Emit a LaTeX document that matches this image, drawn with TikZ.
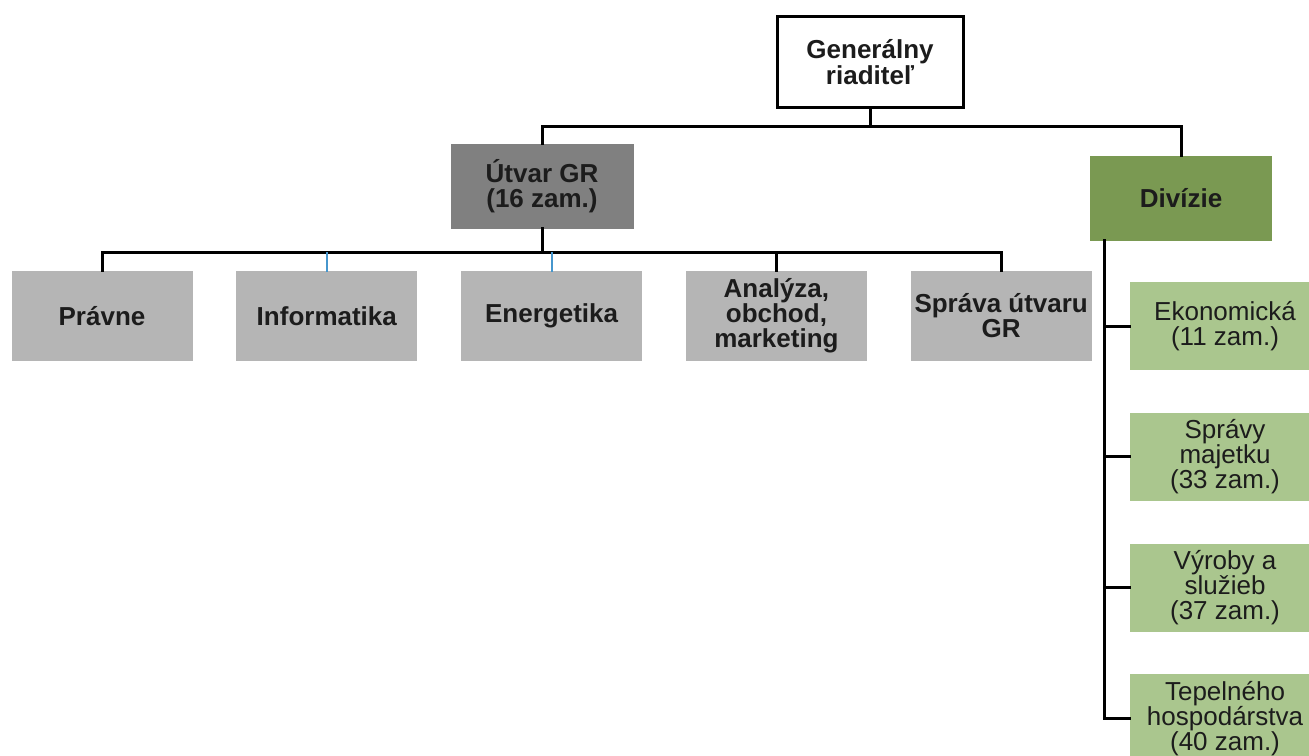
\documentclass[tikz,border=0pt]{standalone}
\usepackage{fontspec}
\setmainfont{Liberation Sans}
\usepackage{tikz}
\definecolor{grdark}{RGB}{128,128,128}
\definecolor{grlight}{RGB}{181,181,181}
\definecolor{divgreen}{RGB}{122,153,82}
\definecolor{unitgreen}{RGB}{170,198,142}
\definecolor{tickblue}{RGB}{70,150,205}
\definecolor{inkdark}{RGB}{28,28,28}
\usetikzlibrary{positioning}

\begin{document}
\begin{tikzpicture}[x=0.5pt, y=-0.5pt,
                line cap=rect, line join=miter,
                box/.style={align=center, inner sep=0pt, text=inkdark,
                            font=\fontsize{13}{12.5}\selectfont},
                ceo/.style={box, draw=black, line width=1.5pt, fill=white,
                            minimum width=93pt, minimum height=45.5pt,
                            font=\bfseries\fontsize{13}{12}\selectfont},
                staff/.style={box, fill=grdark, minimum width=91.5pt, minimum height=42.5pt,
                            font=\bfseries\fontsize{13}{12.5}\selectfont},
                dept/.style={box, fill=grlight, minimum width=90.5pt, minimum height=45pt,
                            font=\bfseries\fontsize{13}{12.5}\selectfont},
                division/.style={box, fill=divgreen, minimum width=91pt, minimum height=42.5pt,
                            font=\bfseries\fontsize{13}{12.5}\selectfont},
                divunit/.style={box, fill=unitgreen, minimum width=95pt, minimum height=44pt},
                link/.style={black, line width=1.5pt},
                bluelink/.style={tickblue, line width=1pt}]
                \def\deptgap{21.5pt}
                \def\unitgap{21pt}
                \useasboundingbox (0,0) rectangle (1309,755);

                % top levels
                \node[ceo] (gr) at (870,62) {Generálny\\riaditeľ};
                \node[staff] (utvar) at (542,186) {Útvar GR\\(16 zam.)};
                \node[division] (div) at (1181,198) {Divízie};

                % departments of the GR staff
                \node[dept] (prv) at (102,316) {Právne};
                \node[dept, right=\deptgap of prv] (inf) {Informatika};
                \node[dept, right=\deptgap of inf] (ene) {Energetika};
                \node[dept, right=\deptgap of ene] (ana) {Analýza,\\obchod,\\marketing};
                \node[dept, right=\deptgap of ana] (spr) {Správa útvaru\\GR};

                % divisions
                \node[divunit] (eko) at (1225,326) {Ekonomická\\(11 zam.)};
                \node[divunit, below=\unitgap of eko] (spm) {Správy\\majetku\\(33 zam.)};
                \node[divunit, below=\unitgap of spm] (vys) {Výroby a\\služieb\\(37 zam.)};
                \node[divunit, below=\unitgap of vys] (tep) {Tepelného\\hospodárstva\\(40 zam.)};

                % connectors
                \draw[link] (gr.south) -- ++(0,17) coordinate (topbus);
                \draw[link] (topbus) -| (utvar.north);
                \draw[link] (topbus) -| (div.north);

                \draw[link] (utvar.south) -- ++(0,24) coordinate (gbus);
                \foreach \n in {prv,ana,spr}{
                    \draw[link] (gbus) -| (\n.north);
                }
                \foreach \n in {inf,ene}{
                    \draw[bluelink] (gbus -| \n.north) -- (\n.north);
                }

                \foreach \n in {eko,spm,vys,tep}{
                    \draw[link] ([xshift=7.5pt]div.south west) |- (\n.west);
                }

            \end{tikzpicture}
\end{document}
